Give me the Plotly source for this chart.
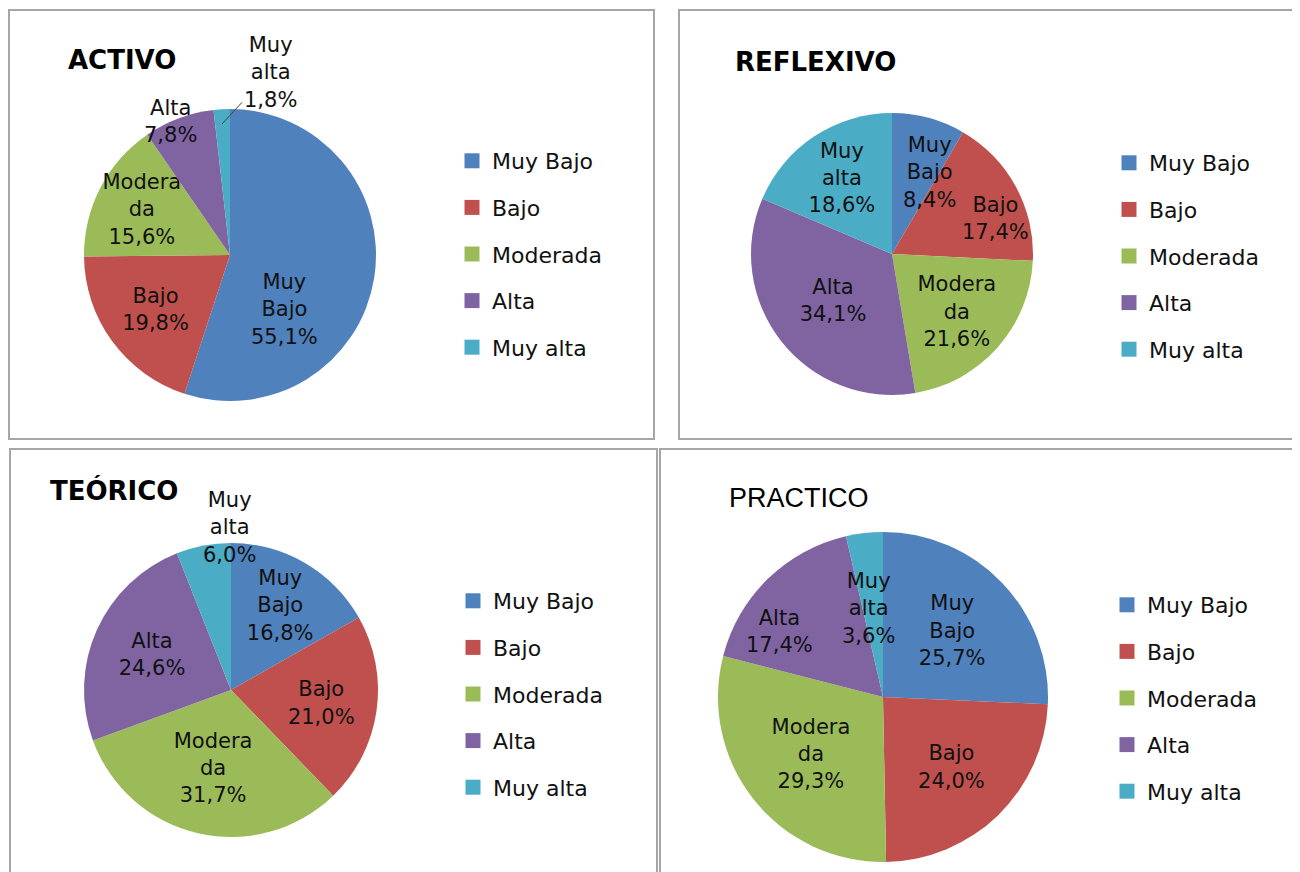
import plotly.graph_objects as go

# page body has an 8px margin, so the figure is drawn 8px in from the corner
OFF = 8
W, H = 1300 - OFF, 872 - OFF

# ---------------- data ----------------
categories = ["Muy Bajo", "Bajo", "Moderada", "Alta", "Muy alta"]
slice_names = ["Muy<br>Bajo", "Bajo", "Modera<br>da", "Alta", "Muy<br>alta"]
colors = ["#4F81BD", "#C0504D", "#9BBB59", "#8064A2", "#4BACC6"]

titles = ["ACTIVO", "REFLEXIVO", "TEÓRICO", "PRACTICO"]
activo = [55.1, 19.8, 15.6, 7.8, 1.8]
reflexivo = [8.4, 17.4, 21.6, 34.1, 18.6]
teorico = [16.8, 21.0, 31.7, 24.6, 6.0]
practico = [25.7, 24.0, 29.3, 17.4, 3.6]
series = [activo, reflexivo, teorico, practico]

# ---------------- layout specs (page pixels) ----------------
# "free" = slices whose label is placed as a separate annotation:
#   index -> (text x, text y, arrow head x, arrow head y or None)
panels = [
    dict(box=(9, 10, 654, 439), center=(230, 255), d=292,
         legend=(452, 140), title=(66, 60), bold=True,
         free={0: (284, 309, None, None), 3: (170, 122, None, None),
               4: (270, 72, 222, 124)}),
    dict(box=(679, 10, 1302, 439), center=(892, 254), d=282,
         legend=(1109, 142), title=(733, 62), bold=True,
         free={0: (929, 172, None, None), 1: (996, 218, None, None)}),
    dict(box=(10, 449, 657, 880), center=(231, 690), d=294,
         legend=(453, 580), title=(48, 490), bold=True,
         free={4: (229, 527, None, None)}),
    dict(box=(660, 449, 1302, 880), center=(883, 697), d=330,
         legend=(1107, 584), title=(727, 498), bold=False,
         free={3: (779, 631, None, None), 4: (868, 608, None, None)}),
]

FONT = "DejaVu Sans"
LABEL_FONT = dict(family=FONT, size=21, color="#111111")


def fx(x):
    return (x - OFF) / W


def fy(y):
    return 1 - (y - OFF) / H


def pct(v):
    return f"{v:.1f}".replace(".", ",") + "%"


fig = go.Figure()
shapes = []
annotations = []
layout_legends = {}

for k, (title, vals, p) in enumerate(zip(titles, series, panels), start=1):
    legname = "legend" if k == 1 else f"legend{k}"
    cx, cy = p["center"]
    r = p["d"] / 2
    texts = [f"{n}<br>{pct(v)}" for n, v in zip(slice_names, vals)]
    pie_texts = ["" if i in p["free"] else t for i, t in enumerate(texts)]
    fig.add_trace(go.Pie(
        values=vals,
        labels=categories,
        text=pie_texts,
        textinfo="text",
        textposition="inside",
        insidetextorientation="horizontal",
        textfont=LABEL_FONT,
        marker=dict(colors=colors, line=dict(width=0)),
        sort=False,
        direction="clockwise",
        rotation=0,
        showlegend=False,
        domain=dict(x=[fx(cx - r), fx(cx + r)], y=[fy(cy + r), fy(cy - r)]),
        hoverinfo="label+value",
    ))
    for i, (tx, ty, hx, hy) in p["free"].items():
        if hx is None:
            annotations.append(dict(
                text=texts[i], x=fx(tx), y=fy(ty), xref="paper", yref="paper",
                xanchor="center", yanchor="middle", showarrow=False,
                font=LABEL_FONT,
            ))
        else:
            annotations.append(dict(
                text=texts[i], x=fx(hx), y=fy(hy), xref="paper", yref="paper",
                ax=tx - hx, ay=ty - hy, showarrow=True, arrowhead=0,
                arrowwidth=1, arrowcolor="#404040", standoff=0,
                font=LABEL_FONT,
            ))
    for i, (cat, col) in enumerate(zip(categories, colors)):
        fig.add_trace(go.Scatter(
            x=[None], y=[None], mode="markers",
            marker=dict(symbol="square", size=15, color=col),
            name=cat, legend=legname, legendgroup=f"g{k}_{i}",
            showlegend=True, hoverinfo="skip",
        ))
    lx, ly = p["legend"]
    layout_legends[legname] = dict(
        x=fx(lx), y=fy(ly), xanchor="left", yanchor="top",
        font=dict(family=FONT, size=22, color="#111111"),
        bgcolor="rgba(0,0,0,0)", tracegroupgap=15,
        itemclick=False, itemdoubleclick=False,
    )
    x0, y0, x1, y1 = p["box"]
    shapes.append(dict(type="rect", xref="paper", yref="paper",
                       x0=fx(x0), x1=fx(x1), y0=fy(y1), y1=fy(y0),
                       line=dict(color="#A6A6A6", width=2)))
    tx, ty = p["title"]
    annotations.append(dict(
        text=f"<b>{title}</b>" if p["bold"] else title,
        x=fx(tx), y=fy(ty), xref="paper", yref="paper",
        xanchor="left", yanchor="middle", showarrow=False,
        font=dict(family=FONT if p["bold"] else "Liberation Sans",
                  size=26 if p["bold"] else 27, color="#000000"),
    ))

fig.update_layout(
    width=W, height=H,
    margin=dict(l=0, r=0, t=0, b=0),
    paper_bgcolor="white", plot_bgcolor="white",
    xaxis=dict(visible=False), yaxis=dict(visible=False),
    shapes=shapes, annotations=annotations,
    uniformtext=dict(minsize=21, mode="show"),
    **layout_legends,
)

fig.write_html("out.html")
